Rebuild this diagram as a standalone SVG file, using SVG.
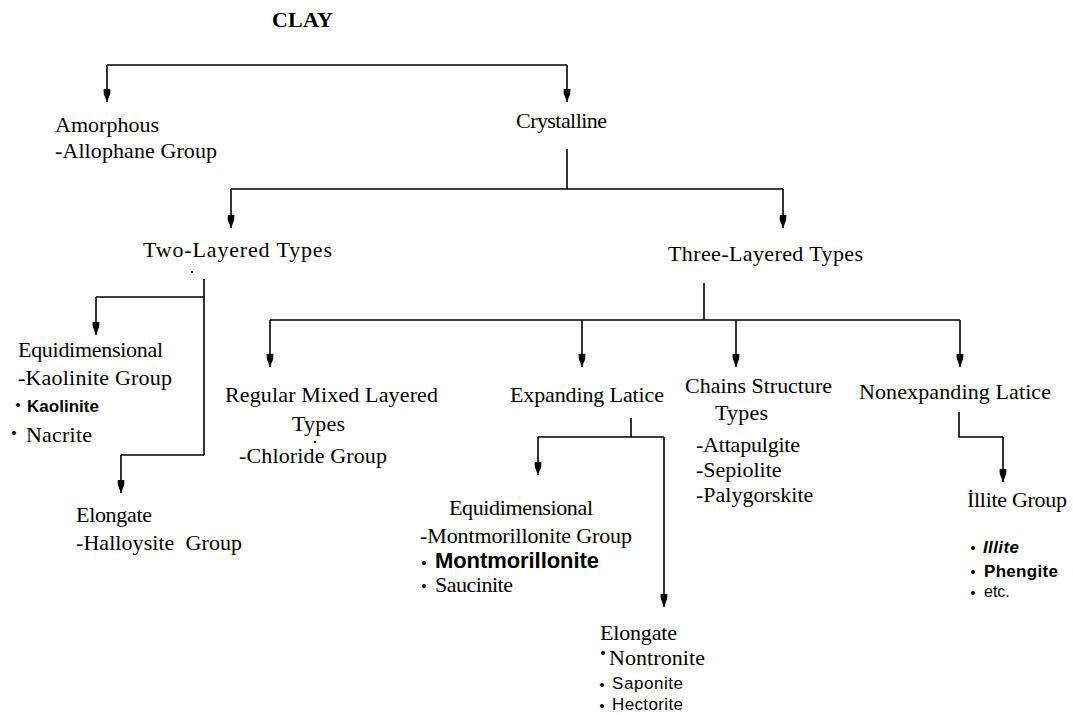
<svg xmlns="http://www.w3.org/2000/svg" width="1073" height="715" viewBox="0 0 1073 715">
<style>
.s{font-family:"Liberation Serif","Times New Roman",serif;font-size:22px;fill:#000}
.t{font-family:"Liberation Serif","Times New Roman",serif;font-size:22px;font-weight:bold;fill:#000}
.a{font-family:"Liberation Sans",Arial,sans-serif;font-size:17px;fill:#000}
.ab{font-family:"Liberation Sans",Arial,sans-serif;font-size:17px;font-weight:bold;fill:#000}
.bu{font-family:"Liberation Sans",Arial,sans-serif;font-size:14px;fill:#000}
.ln{fill:none;stroke:#000;stroke-width:1.6}
.ar{fill:none;stroke:#000;stroke-width:1.6;marker-end:url(#ah)}
</style>
<defs>
<marker id="ah" markerUnits="userSpaceOnUse" markerWidth="14" markerHeight="10" refX="13" refY="5" orient="auto">
<path d="M0,1.6 L5,1.8 L13,5 L5,8.2 L0,8.4 Z" fill="#000"/>
</marker>
</defs>
<rect width="1073" height="715" fill="#fff"/>

<g id="connectors">
<path class="ln" d="M107,65 H567"/>
<path class="ar" d="M107,65 V102"/>
<path class="ar" d="M567,65 V102"/>
<path class="ln" d="M567,149 V189 M231,189 H783"/>
<path class="ar" d="M231,189 V228"/>
<path class="ar" d="M783,189 V228"/>
<path class="ln" d="M204,279 V455 M96,297 H204 M121,455 H204"/>
<path class="ar" d="M96,297 V335"/>
<path class="ar" d="M121,455 V493"/>
<path class="ln" d="M704,283 V320 M270,320 H960"/>
<path class="ar" d="M270,320 V367"/>
<path class="ar" d="M582,320 V367"/>
<path class="ar" d="M736,320 V367"/>
<path class="ar" d="M960,320 V367"/>
<path class="ln" d="M631,418 V437 M538,437 H664"/>
<path class="ar" d="M538,437 V475"/>
<path class="ar" d="M664,437 V607"/>
<path class="ln" d="M959,412 V437 H1003"/>
<path class="ar" d="M1003,437 V482"/>
</g>

<g id="clay"><text class="t" x="272" y="27" textLength="61">CLAY</text></g>

<g id="amorphous">
<text class="s" x="55" y="132" textLength="104">Amorphous</text>
<text class="s" x="55" y="158" textLength="162">-Allophane Group</text>
</g>

<g id="crystalline"><text class="s" x="516" y="128" textLength="91">Crystalline</text></g>

<g id="two-layered">
<text class="s" x="143" y="257" textLength="189">Two-Layered Types</text>
<rect x="191" y="271" width="2" height="2" fill="#000"/>
</g>

<g id="three-layered"><text class="s" x="668" y="261" textLength="195">Three-Layered Types</text></g>

<g id="equidimensional-kaolinite">
<text class="s" x="18" y="357" textLength="145">Equidimensional</text>
<text class="s" x="18" y="385" textLength="154">-Kaolinite Group</text>
<text class="bu" x="15.5" y="410">•</text>
<text class="ab" x="27" y="412" textLength="72">Kaolinite</text>
<text class="bu" x="11.5" y="438">•</text>
<text class="s" x="26" y="442" textLength="66">Nacrite</text>
</g>

<g id="elongate-halloysite">
<text class="s" x="76" y="522" textLength="76">Elongate</text>
<text class="s" x="76" y="550" xml:space="preserve" textLength="166">-Halloysite  Group</text>
</g>

<g id="regular-mixed">
<text class="s" x="225" y="402" textLength="213">Regular Mixed Layered</text>
<text class="s" x="292" y="431" textLength="53">Types</text>
<rect x="314" y="441" width="2" height="2" fill="#000"/>
<text class="s" x="239" y="463" textLength="148">-Chloride Group</text>
</g>

<g id="expanding"><text class="s" x="510" y="402" textLength="154">Expanding Latice</text></g>

<g id="chains">
<text class="s" x="685" y="393" textLength="147">Chains Structure</text>
<text class="s" x="715" y="420" textLength="53">Types</text>
<text class="s" x="696" y="452" textLength="104">-Attapulgite</text>
<text class="s" x="696" y="477">-Sepiolite</text>
<text class="s" x="696" y="502">-Palygorskite</text>
</g>

<g id="nonexpanding"><text class="s" x="859" y="399" textLength="192">Nonexpanding Latice</text></g>

<g id="illite-group">
<text class="s" x="967" y="507" textLength="100">İllite Group</text>
<text class="bu" x="970.5" y="553">•</text>
<text class="ab" x="983" y="553" style="font-style:italic" textLength="36">Illite</text>
<text class="bu" x="970.5" y="577">•</text>
<text class="ab" x="984" y="577" textLength="74">Phengite</text>
<text class="bu" x="970.5" y="598">•</text>
<text class="a" x="984" y="597" style="font-size:16px">etc.</text>
</g>

<g id="equidimensional-montmorillonite">
<text class="s" x="449" y="515" textLength="144">Equidimensional</text>
<text class="s" x="420" y="543" textLength="212">-Montmorillonite Group</text>
<text class="bu" x="421.5" y="568">•</text>
<text class="ab" x="435" y="568" style="font-size:22px" textLength="164">Montmorillonite</text>
<text class="bu" x="421.5" y="591">•</text>
<text class="s" x="435" y="592" textLength="78">Saucinite</text>
</g>

<g id="elongate-nontronite">
<text class="s" x="600" y="640" textLength="77">Elongate</text>
<text class="bu" x="600.5" y="658">•</text>
<text class="s" x="609" y="665" textLength="96">Nontronite</text>
<text class="bu" x="599.5" y="690">•</text>
<text class="a" x="612" y="689" textLength="71">Saponite</text>
<text class="bu" x="599.5" y="711">•</text>
<text class="a" x="612" y="710" textLength="71">Hectorite</text>
</g>
</svg>
